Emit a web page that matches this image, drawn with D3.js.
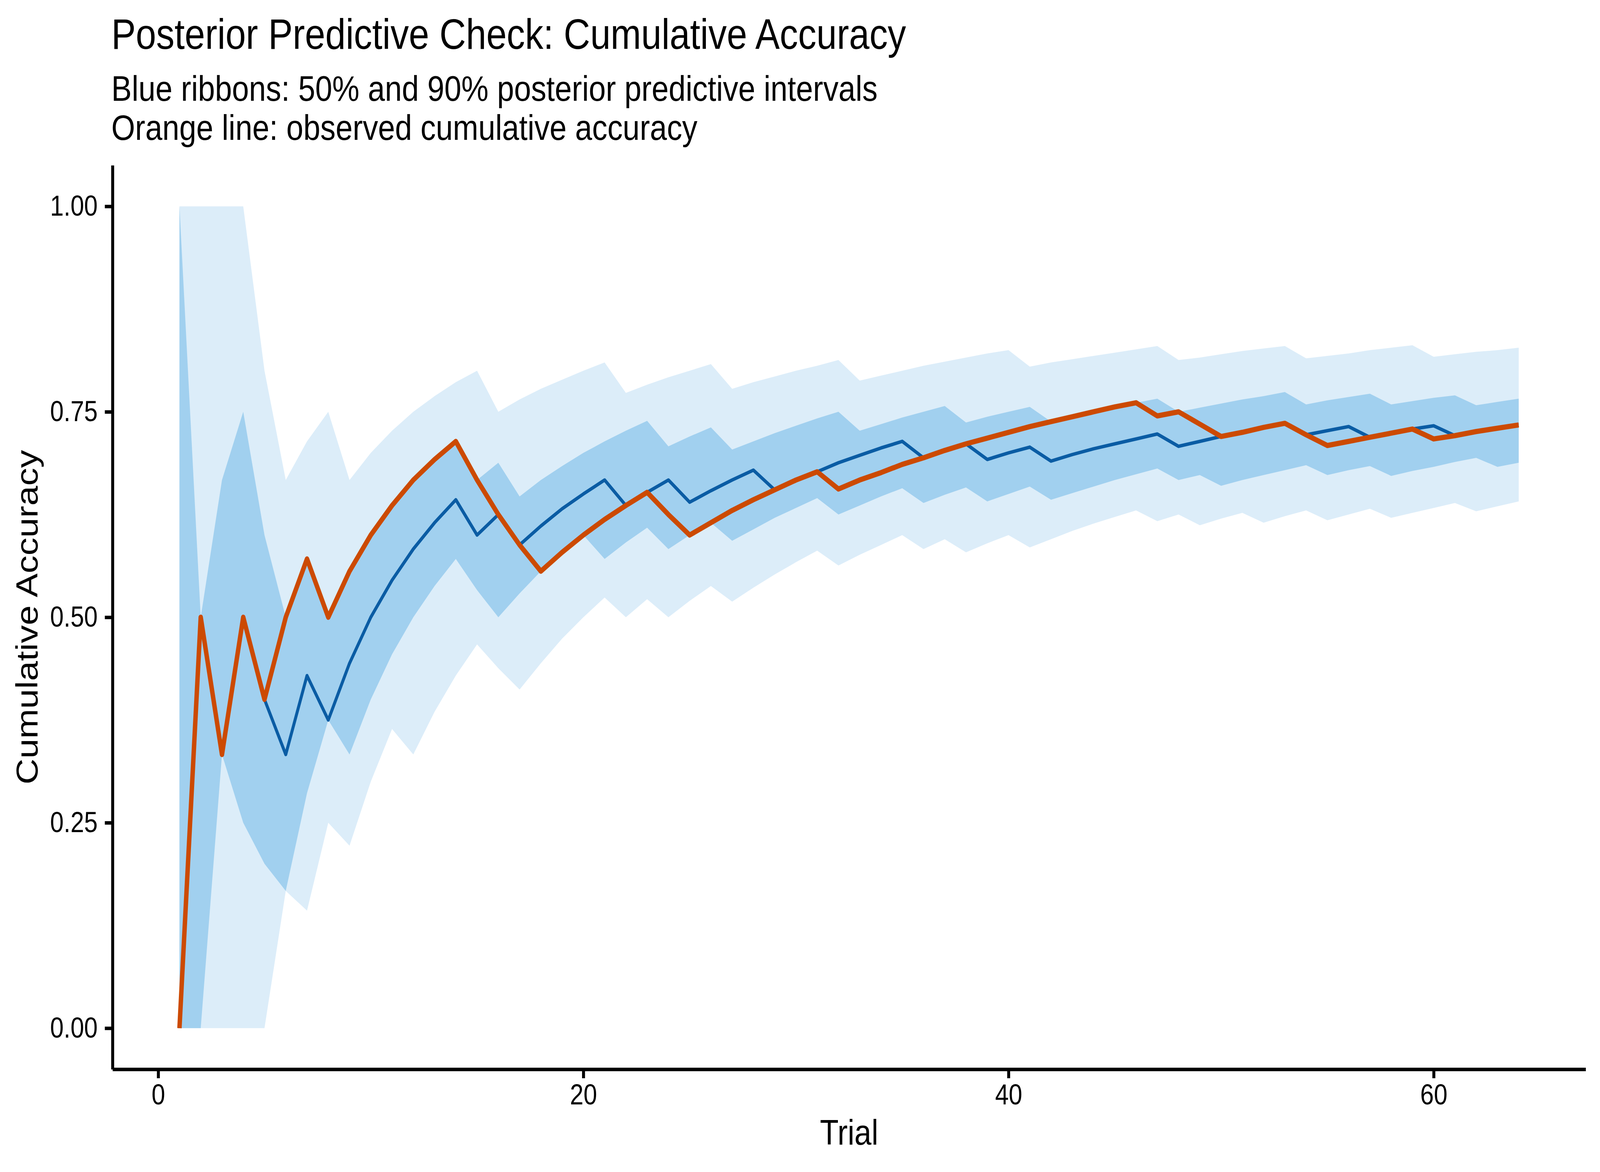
<!DOCTYPE html>
<html>
<head>
<meta charset="utf-8">
<script src="https://cdn.jsdelivr.net/npm/d3@7"></script>
<style>
  html, body { margin: 0; padding: 0; background: #fff; overflow: hidden; }
  div.canvas { width: 100vw; height: 100vh; }
  svg { display: block; }
  svg text { font-family: "Liberation Sans", Arial, Helvetica, sans-serif; }
</style>
</head>
<body>
<div class="canvas"></div>
<script>
// trial index
var trials = [1,2,3,4,5,6,7,8,9,10,11,12,13,14,15,16,17,18,19,20,
  21,22,23,24,25,26,27,28,29,30,31,32,33,34,35,36,37,38,39,40,
  41,42,43,44,45,46,47,48,49,50,51,52,53,54,55,56,57,58,59,60,
  61,62,63,64];

// observed cumulative accuracy (orange)
var observed = [0, 0.5, 0.333, 0.5, 0.4, 0.5, 0.571, 0.5, 0.556, 0.6,
  0.636, 0.667, 0.692, 0.714, 0.667, 0.625, 0.588, 0.556, 0.579, 0.6,
  0.619, 0.636, 0.652, 0.625, 0.6, 0.615, 0.63, 0.643, 0.655, 0.667,
  0.677, 0.656, 0.667, 0.676, 0.686, 0.694, 0.703, 0.711, 0.718, 0.725,
  0.732, 0.738, 0.744, 0.75, 0.756, 0.761, 0.745, 0.75, 0.735, 0.72,
  0.725, 0.731, 0.736, 0.722, 0.709, 0.714, 0.719, 0.724, 0.729, 0.717,
  0.721, 0.726, 0.73, 0.734];

// posterior predictive median (dark blue)
var median = [0, 0.5, 0.333, 0.5, 0.4, 0.333, 0.429, 0.375, 0.444, 0.5,
  0.545, 0.583, 0.615, 0.643, 0.6, 0.625, 0.588, 0.611, 0.632, 0.65,
  0.667, 0.636, 0.652, 0.667, 0.64, 0.654, 0.667, 0.679, 0.655, 0.667,
  0.677, 0.688, 0.697, 0.706, 0.714, 0.694, 0.703, 0.711, 0.692, 0.7,
  0.707, 0.69, 0.698, 0.705, 0.711, 0.717, 0.723, 0.708, 0.714, 0.72,
  0.725, 0.731, 0.736, 0.722, 0.727, 0.732, 0.719, 0.724, 0.729, 0.733,
  0.721, 0.726, 0.73, 0.734];

// 90% interval
var lo90 = [0, 0, 0, 0, 0, 0.167, 0.143, 0.25, 0.222, 0.3,
  0.364, 0.333, 0.385, 0.429, 0.467, 0.438, 0.412, 0.444, 0.474, 0.5,
  0.524, 0.5, 0.522, 0.5, 0.52, 0.538, 0.519, 0.536, 0.552, 0.567,
  0.581, 0.563, 0.576, 0.588, 0.6, 0.583, 0.595, 0.579, 0.59, 0.6,
  0.585, 0.595, 0.605, 0.614, 0.622, 0.63, 0.617, 0.625, 0.612, 0.62,
  0.627, 0.615, 0.623, 0.63, 0.618, 0.625, 0.632, 0.621, 0.627, 0.633,
  0.639, 0.629, 0.635, 0.641];
var hi90 = [1, 1, 1, 1, 0.8, 0.667, 0.714, 0.75, 0.667, 0.7,
  0.727, 0.75, 0.769, 0.786, 0.8, 0.75, 0.765, 0.778, 0.789, 0.8,
  0.81, 0.773, 0.783, 0.792, 0.8, 0.808, 0.778, 0.786, 0.793, 0.8,
  0.806, 0.813, 0.788, 0.794, 0.8, 0.806, 0.811, 0.816, 0.821, 0.825,
  0.805, 0.81, 0.814, 0.818, 0.822, 0.826, 0.83, 0.813, 0.816, 0.82,
  0.824, 0.827, 0.83, 0.815, 0.818, 0.821, 0.825, 0.828, 0.831, 0.817,
  0.82, 0.823, 0.825, 0.828];

// 50% interval
var lo50 = [0, 0, 0.333, 0.25, 0.2, 0.167, 0.286, 0.375, 0.333, 0.4,
  0.455, 0.5, 0.538, 0.571, 0.533, 0.5, 0.529, 0.556, 0.579, 0.6,
  0.571, 0.591, 0.609, 0.583, 0.6, 0.615, 0.593, 0.607, 0.621, 0.633,
  0.645, 0.625, 0.636, 0.647, 0.657, 0.639, 0.649, 0.658, 0.641, 0.65,
  0.659, 0.643, 0.651, 0.659, 0.667, 0.674, 0.681, 0.667, 0.673, 0.66,
  0.667, 0.673, 0.679, 0.685, 0.673, 0.679, 0.684, 0.672, 0.678, 0.683,
  0.689, 0.694, 0.683, 0.688];
var hi50 = [1, 0.5, 0.667, 0.75, 0.6, 0.5, 0.571, 0.5, 0.556, 0.6,
  0.636, 0.667, 0.692, 0.714, 0.667, 0.688, 0.647, 0.667, 0.684, 0.7,
  0.714, 0.727, 0.739, 0.708, 0.72, 0.731, 0.704, 0.714, 0.724, 0.733,
  0.742, 0.75, 0.727, 0.735, 0.743, 0.75, 0.757, 0.737, 0.744, 0.75,
  0.756, 0.738, 0.744, 0.75, 0.756, 0.761, 0.766, 0.75, 0.755, 0.76,
  0.765, 0.769, 0.774, 0.759, 0.764, 0.768, 0.772, 0.759, 0.763, 0.767,
  0.77, 0.758, 0.762, 0.766];

var xTicks = [0, 20, 40, 60];
var yTicks = [0, 0.25, 0.5, 0.75, 1];
var yTickLabels = ["0.00", "0.25", "0.50", "0.75", "1.00"];

var titleText = "Posterior Predictive Check: Cumulative Accuracy";
var subtitleLines = ["Blue ribbons: 50% and 90% posterior predictive intervals",
                     "Orange line: observed cumulative accuracy"];

chart();

function chart() {
	var fig_width = 4800;
	var fig_height = 3000;
	var panel_left = 337.5, panel_right = 4757;
	var panel_top = 423, panel_bottom = 2737;
	var line_w = 8.9;

	// drawn in a 4800x3000 coordinate space, stretched to fill the window
	var svg = d3.select("body div.canvas").append("svg")
		.attr("viewBox", "0 0 " + fig_width + " " + fig_height)
		.attr("preserveAspectRatio", "none")
		.style("width", "100%")
		.style("height", "100%");

	svg.append("rect").attr("width", fig_width).attr("height", fig_height).attr("fill", "#fff");

	var x = d3.scaleLinear().domain([-2.15, 67.15]).range([panel_left, panel_right]);
	var y = d3.scaleLinear().domain([-0.05, 1.05]).range([panel_bottom, panel_top]);

	var rows = trials.map(function(t, i) {
		return {t: t, obs: observed[i], med: median[i],
			lo90: lo90[i], hi90: hi90[i], lo50: lo50[i], hi50: hi50[i]};
	});

	var area90 = d3.area()
		.x(function(d) { return x(d.t); })
		.y0(function(d) { return y(d.lo90); })
		.y1(function(d) { return y(d.hi90); });
	var area50 = d3.area()
		.x(function(d) { return x(d.t); })
		.y0(function(d) { return y(d.lo50); })
		.y1(function(d) { return y(d.hi50); });

	svg.append("path").datum(rows).attr("d", area90).attr("fill", "#dcedf9");
	svg.append("path").datum(rows).attr("d", area50).attr("fill", "#a1d0ef");

	var medLine = d3.line()
		.x(function(d) { return x(d.t); })
		.y(function(d) { return y(d.med); });
	var obsLine = d3.line()
		.x(function(d) { return x(d.t); })
		.y(function(d) { return y(d.obs); });

	svg.append("path").datum(rows).attr("d", medLine)
		.attr("fill", "none").attr("stroke", "#0a5ca4")
		.attr("stroke-width", 8.9).attr("stroke-linejoin", "round").attr("stroke-linecap", "butt");
	svg.append("path").datum(rows).attr("d", obsLine)
		.attr("fill", "none").attr("stroke", "#cc4a02")
		.attr("stroke-width", 13.3).attr("stroke-linejoin", "round").attr("stroke-linecap", "butt");

	// axes
	var xAxis = d3.axisBottom(x).tickValues(xTicks).tickSize(23).tickSizeOuter(0).tickPadding(15)
		.tickFormat(d3.format("d"));
	var yAxis = d3.axisLeft(y).tickValues(yTicks).tickSize(23).tickSizeOuter(0).tickPadding(21.5)
		.tickFormat(function(d, i) { return yTickLabels[i]; });

	var gx = svg.append("g").attr("transform", "translate(0," + panel_bottom + ")").call(xAxis);
	var gy = svg.append("g").attr("transform", "translate(" + panel_left + ",0)").call(yAxis);

	[gx, gy].forEach(function(g) {
		g.select(".domain").attr("stroke", "#000").attr("stroke-width", line_w);
		g.selectAll(".tick line").attr("stroke", "#000").attr("stroke-width", line_w);
		g.selectAll(".tick text")
			.attr("fill", "#000")
			.style("font-size", "73.3px")
			.style("font-family", "Liberation Sans, Arial, sans-serif");
	});

	// titles
	svg.append("text")
		.attr("x", 334).attr("y", 125)
		.style("font-size", "110px")
		.attr("fill", "#000")
		.text(titleText);

	svg.selectAll("text.subtitle")
		.data(subtitleLines)
		.enter().append("text")
		.attr("class", "subtitle")
		.attr("x", 334)
		.attr("y", function(d, i) { return 258 + i * 100; })
		.style("font-size", "91.7px")
		.attr("fill", "#000")
		.text(function(d) { return d; });

	svg.append("text")
		.attr("x", (panel_left + panel_right) / 2).attr("y", 2930)
		.attr("text-anchor", "middle")
		.style("font-size", "91.7px")
		.attr("fill", "#000")
		.text("Trial");

	svg.append("text")
		.attr("transform", "translate(112," + ((panel_top + panel_bottom) / 2) + ") rotate(-90)")
		.attr("text-anchor", "middle")
		.style("font-size", "91.7px")
		.attr("fill", "#000")
		.text("Cumulative Accuracy");
}
</script>
</body>
</html>
